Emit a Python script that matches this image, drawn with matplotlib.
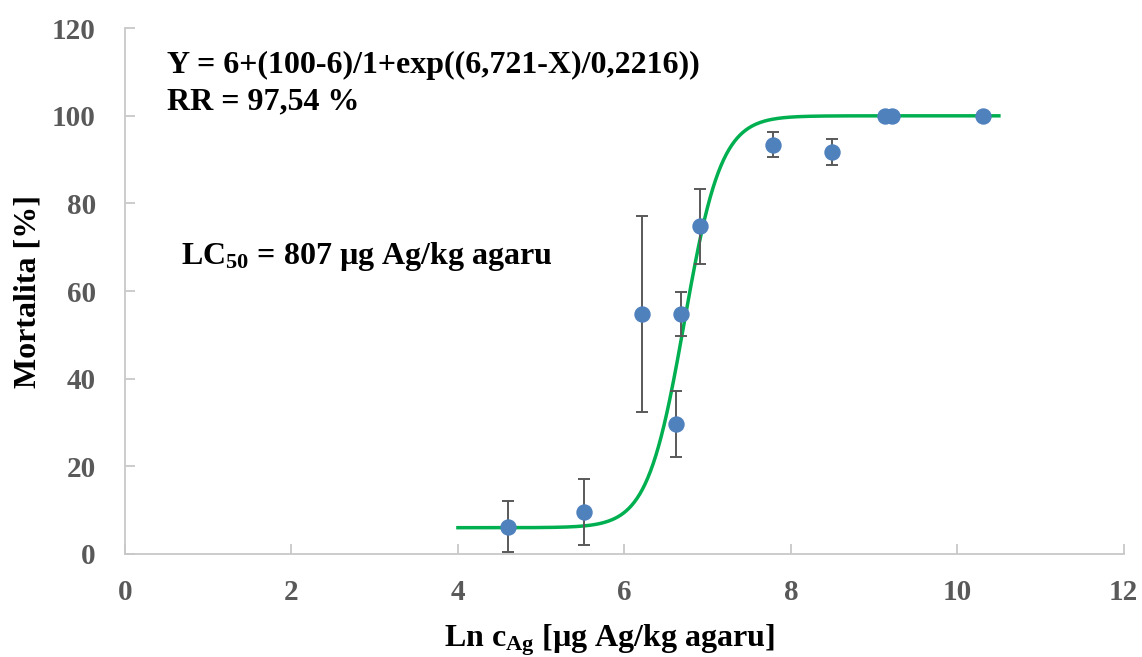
import numpy as np
import matplotlib
matplotlib.use("Agg")
import matplotlib.pyplot as plt

# ---- data ----
ln_conc = [4.605, 5.52, 6.21, 6.62, 6.68, 6.91, 7.78, 8.49, 9.13, 9.21, 10.31]
mortality = [6.2, 9.6, 54.7, 29.7, 54.7, 74.8, 93.4, 91.7, 100.0, 100.0, 100.0]
err = [5.8, 7.5, 22.4, 7.6, 5.0, 8.6, 2.9, 2.9, 0.0, 0.0, 0.0]

# fitted sigmoid given on the chart: Y = 6+(100-6)/(1+exp((6.721-X)/0.2216))
fit_bottom, fit_top, fit_x50, fit_slope = 6.0, 100.0, 6.721, 0.2216
fit_range = (4.0, 10.5)

x_ticks = [0, 2, 4, 6, 8, 10, 12]
y_ticks = [0, 20, 40, 60, 80, 100, 120]

plt.rcParams["font.family"] = "Liberation Serif"
plt.rcParams["font.weight"] = "bold"
plt.rcParams["mathtext.fontset"] = "custom"
plt.rcParams["mathtext.rm"] = "Liberation Serif:bold"
plt.rcParams["mathtext.bf"] = "Liberation Serif:bold"
plt.rcParams["mathtext.default"] = "rm"

fig = plt.figure(figsize=(11.42, 6.57), dpi=100)
ax = fig.add_axes([0.1095, 0.1568, 0.8745, 0.8003])

xf = np.linspace(fit_range[0], fit_range[1], 400)
yf = fit_bottom + (fit_top - fit_bottom) / (1 + np.exp((fit_x50 - xf) / fit_slope))
ax.plot(xf, yf, color="#00B050", lw=2.5, zorder=2)

ax.errorbar(ln_conc, mortality, yerr=err, fmt="none", ecolor="#595959",
            elinewidth=1.4, capsize=4.5, capthick=1.4, zorder=3)
ax.plot(ln_conc, mortality, "o", color="#4F81BD", ms=10.8, zorder=4)

ax.set_xlim(0, 12)
ax.set_ylim(0, 120)
ax.set_xticks(x_ticks)
ax.set_yticks(y_ticks)
for s in ("top", "right"):
    ax.spines[s].set_visible(False)
for s in ("left", "bottom"):
    ax.spines[s].set_color("#C8C8C8")
    ax.spines[s].set_linewidth(1.3)
ax.tick_params(direction="in", length=7, width=1.3, color="#C8C8C8",
               labelcolor="#595959", labelsize=21)
ax.tick_params(axis="x", pad=18)
ax.tick_params(axis="y", pad=21)
for lab in ax.get_xticklabels() + ax.get_yticklabels():
    lab.set_fontweight("bold")

ax.set_ylabel("Mortalita [%]", fontsize=23, fontweight="bold", labelpad=7)
ax.set_xlabel(r"Ln c$_{\mathrm{Ag}}$ [µg Ag/kg agaru]", fontsize=23,
              fontweight="bold", labelpad=10)
ax.xaxis.set_label_coords(0.485, -0.13)

ax.text(0.50, 111.6, "Y = 6+(100-6)/1+exp((6,721-X)/0,2216))", fontsize=23,
        fontweight="bold", va="center", ha="left")
ax.text(0.50, 103.1, "RR = 97,54 %", fontsize=23, fontweight="bold",
        va="center", ha="left")
ax.text(0.67, 67.8, r"LC$_{50}$ = 807 µg Ag/kg agaru", fontsize=23,
        fontweight="bold", va="center", ha="left")

fig.savefig("out.png", dpi=100)
